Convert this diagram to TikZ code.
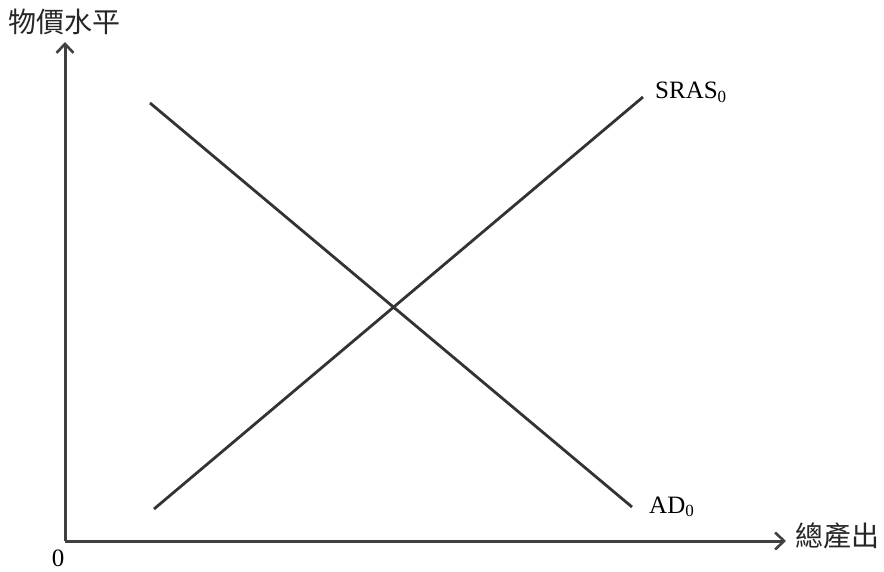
\documentclass[tikz,border=0pt]{standalone}
\usepackage{fontspec}
\setmainfont{Liberation Serif}
\newfontfamily\cjk{Noto Sans CJK TC}
\usetikzlibrary{arrows.meta}
\begin{document}
\begin{tikzpicture}[x=1pt,y=-1pt,
  axis/.style={line width=3pt,draw=black!75,-{Straight Barb[length=9pt,width=17pt,line width=2.6pt]}},
  curve/.style={line width=2.8pt,draw=black!80},
  lbl/.style={font=\fontsize{25}{25}\selectfont,inner sep=0pt,text=black},
  cjklbl/.style={font=\cjk\fontsize{28}{28}\selectfont,inner sep=0pt,text=black!85}]
\useasboundingbox (0,0) rectangle (884,572);
\coordinate (O) at (65,541);
\coordinate (Ytop) at (65,42);
\coordinate (Xend) at (786,541);
\draw[axis] (O) -- (Ytop);
\draw[axis] (O) -- (Xend);
\coordinate (AD1) at (150,103);
\coordinate (AD2) at (632,507);
\coordinate (SR1) at (154,509);
\coordinate (SR2) at (643,97);
\draw[curve] (AD1) -- (AD2);
\draw[curve] (SR1) -- (SR2);
\node[cjklbl,anchor=west] (ylab) at (8,22) {物價水平};
\node[cjklbl,anchor=west] (xlab) at (795,536) {總產出};
\node[lbl] (zero) at (58,558) {0};
\node[lbl,anchor=base west] (sras) at (655,99) {SRAS\raisebox{-0.15em}{\fontsize{17}{17}\selectfont 0}};
\node[lbl,anchor=base west] (ad) at (649,513) {AD\raisebox{-0.15em}{\fontsize{17}{17}\selectfont 0}};
\end{tikzpicture}
\end{document}
